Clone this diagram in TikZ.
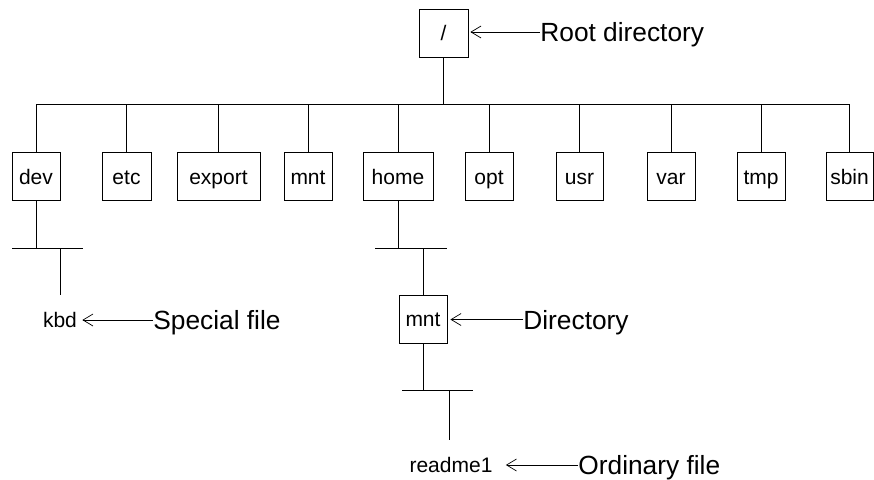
\documentclass[tikz,border=0pt]{standalone}
\usepackage{fontspec}
\setmainfont{Liberation Sans}
\usetikzlibrary{arrows.meta}
\begin{document}
\begin{tikzpicture}[x=1pt,y=-1pt,
  line width=0.8pt,
  dirbox/.style={draw, rectangle, inner sep=0pt, text height=15pt, text depth=0pt, minimum height=48pt, font=\fontsize{21}{25}\selectfont},
  filetext/.style={inner sep=0pt, text height=15pt, text depth=0pt, font=\fontsize{21}{25}\selectfont},
  labeltext/.style={inner sep=0pt, anchor=west, text height=19pt, text depth=0pt, font=\fontsize{26.3}{30}\selectfont},
  pointer/.style={-{Straight Barb[length=10pt,width=12pt]}, line width=0.7pt}
]
\useasboundingbox (0,0) rectangle (874,479);

% root
\node[dirbox, minimum width=49pt] (root) at (443.5,33) {/};

% first level
\node[dirbox, minimum width=48pt] (dev) at (36,176.5) {dev};
\node[dirbox, minimum width=49pt] (etc) at (126.5,176.5) {etc};
\node[dirbox, minimum width=83pt] (export) at (218.5,176.5) {export};
\node[dirbox, minimum width=48pt] (mnt) at (308,176.5) {mnt};
\node[dirbox, minimum width=70pt] (home) at (398,176.5) {home};
\node[dirbox, minimum width=48pt] (opt) at (489,176.5) {opt};
\node[dirbox, minimum width=47pt] (usr) at (579.5,176.5) {usr};
\node[dirbox, minimum width=48pt] (var) at (671,176.5) {var};
\node[dirbox, minimum width=48pt] (tmp) at (761,176.5) {tmp};
\node[dirbox, minimum width=47pt] (sbin) at (849.5,176.5) {sbin};

% bar
\coordinate (bar) at (443.5,104);
\draw (root.south) -- (bar);
\draw (dev.north |- bar) -- (sbin.north |- bar);
\foreach \n in {dev,etc,export,mnt,home,opt,usr,var,tmp,sbin}
  \draw (\n.north |- bar) -- (\n.north);

% dev subtree
\node[filetext] (kbd) at (60,320) {kbd};
\coordinate (devbar) at (36,248);
\draw (dev.south) -- (devbar);
\draw (12,248) -- (83,248);
\draw (kbd.north |- devbar) -- (60,295);

% home subtree
\node[dirbox, minimum width=48pt] (mnt2) at (423,319) {mnt};
\coordinate (homebar) at (398,248);
\draw (home.south) -- (homebar);
\draw (375,248) -- (447,248);
\draw (mnt2.north |- homebar) -- (mnt2.north);

\node[filetext] (readme) at (451,465) {readme1};
\coordinate (mntbar) at (423,390);
\draw (mnt2.south) -- (mntbar);
\draw (402,390) -- (473,390);
\draw (449,390) -- (449,440);

% labels
\node[labeltext] (lroot) at (540,32) {Root directory};
\node[labeltext] (lspecial) at (153,320) {Special file};
\node[labeltext] (ldir) at (523,319.5) {Directory};
\node[labeltext] (lord) at (578,465) {Ordinary file};

\draw[pointer, shorten >=2pt] (lroot.west) -- (root.east |- lroot.west);
\draw[pointer, shorten >=5pt] (lspecial.west) -- (kbd.east |- lspecial.west);
\draw[pointer, shorten >=3pt] (ldir.west) -- (mnt2.east |- ldir.west);
\draw[pointer, shorten >=13pt] (lord.west) -- (readme.east |- lord.west);
\end{tikzpicture}
\end{document}
